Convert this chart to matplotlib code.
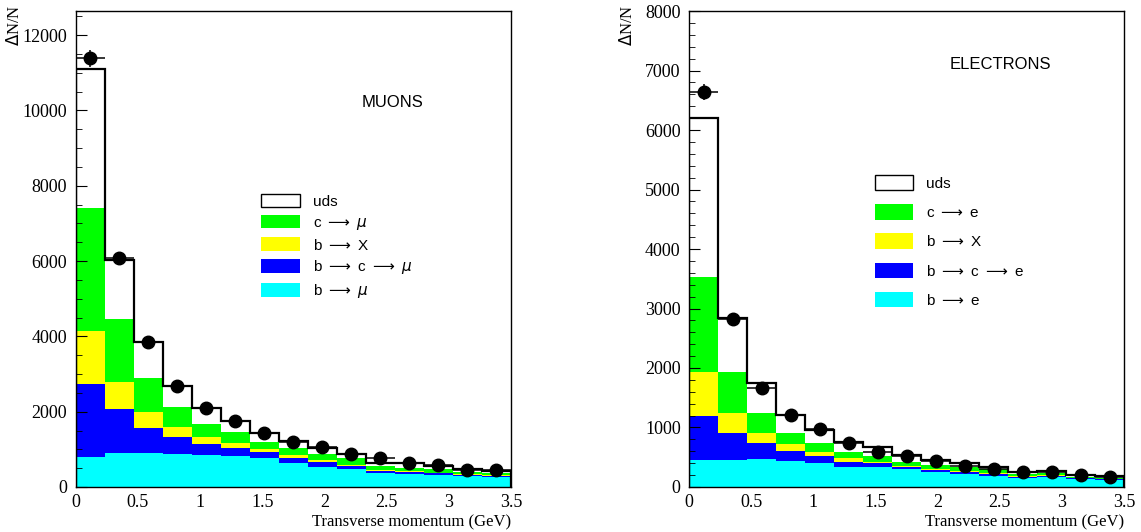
import numpy as np
import matplotlib.pyplot as plt
from matplotlib.patches import Patch
from matplotlib.ticker import MultipleLocator

# 15 bins of transverse momentum, 0 - 3.5 GeV
n_bins = 15
pt_max = 3.5

# --- muons (stack components, per bin) ---
mu_b_mu = [805, 895, 895, 885, 850, 823, 779, 646, 540, 478, 380, 345, 311, 284, 258]
mu_b_c_mu = [1931, 1185, 680, 443, 292, 222, 142, 115, 124, 80, 45, 53, 53, 43, 42]
mu_b_x = [1416, 709, 417, 266, 195, 124, 88, 89, 53, 26, 27, 19, 16, 18, 19]
mu_c_mu = [3258, 1665, 903, 531, 344, 292, 195, 195, 151, 177, 114, 96, 90, 61, 45]
mu_total = [11100, 6030, 3843, 2683, 2090, 1761, 1443, 1213, 1045, 876, 646, 629, 566, 478, 433]
mu_data = [11380, 6080, 3850, 2680, 2100, 1760, 1426, 1204, 1054, 868, 779, 646, 593, 460, 443]

# --- electrons ---
el_b_e = [448, 453, 464, 442, 408, 341, 330, 297, 246, 218, 185, 156, 162, 129, 117]
el_b_c_e = [749, 448, 269, 167, 112, 84, 67, 33, 34, 34, 33, 17, 23, 17, 12]
el_b_x = [738, 335, 168, 113, 73, 67, 28, 22, 22, 22, 12, 12, 16, 10, 11]
el_c_e = [1589, 699, 346, 189, 140, 101, 95, 73, 67, 67, 67, 33, 39, 17, 16]
el_total = [6204, 2848, 1740, 1213, 956, 760, 677, 537, 453, 397, 330, 257, 274, 201, 185]
el_data = [6633, 2819, 1666, 1208, 968, 744, 593, 520, 442, 352, 297, 257, 257, 201, 173]

plt.rcParams['font.family'] = ['Liberation Serif', 'DejaVu Serif']
sans = ['Liberation Sans', 'DejaVu Sans']

edges = np.linspace(0, pt_max, n_bins + 1)
centers = 0.5 * (edges[:-1] + edges[1:])
half_w = 0.5 * (edges[1] - edges[0])

colors = ['#00ffff', '#0000ff', '#ffff00', '#00ff00']


def draw_panel(ax, comps, total, data, labels, ymax, major, minor, title, title_xy,
               leg_anchor, leg_hh, leg_ls):
    bottom = np.zeros(n_bins)
    for comp, col in zip(comps, colors):
        top = bottom + np.array(comp)
        ax.stairs(top, edges, baseline=bottom, fill=True, color=col, lw=0)
        bottom = top
    ax.stairs(total, edges, color='black', lw=1.6, zorder=3)
    ax.errorbar(centers, data, xerr=half_w, yerr=np.array(data) * 0.02, fmt='o',
                color='black', ms=9, lw=1.1, capsize=0, zorder=4)
    ax.set_xlim(0, pt_max)
    ax.set_ylim(0, ymax)
    ax.xaxis.set_major_locator(MultipleLocator(0.5))
    ax.yaxis.set_major_locator(MultipleLocator(major))
    ax.yaxis.set_minor_locator(MultipleLocator(minor))
    ax.tick_params(axis='y', which='both', direction='in', right=False)
    ax.tick_params(axis='y', which='major', length=8, labelsize=13, pad=6)
    ax.tick_params(axis='y', which='minor', length=4)
    ax.tick_params(axis='x', length=0, labelsize=13, pad=5)
    ax.xaxis.set_major_formatter(plt.FuncFormatter(lambda v, p: f'{v:g}'))
    for s in ax.spines.values():
        s.set_linewidth(1.0)
    ax.text(title_xy[0], title_xy[1], title, transform=ax.transAxes,
            family=sans, fontsize=12, va='center')
    handles = [Patch(facecolor='white', edgecolor='black', lw=1.0),
               Patch(facecolor=colors[3]), Patch(facecolor=colors[2]),
               Patch(facecolor=colors[1]), Patch(facecolor=colors[0])]
    ax.legend(handles, labels, loc='upper left', bbox_to_anchor=leg_anchor,
              frameon=False, prop={'family': sans, 'size': 11},
              handlelength=2.5, handleheight=leg_hh, labelspacing=leg_ls,
              handletextpad=0.85)
    ax.text(-0.16, 1.013, r'$\Delta$N/N', rotation=90, transform=ax.transAxes,
            ha='left', va='top', fontsize=12)
    ax.text(1.0, -0.057, 'Transverse momentum (GeV)', transform=ax.transAxes,
            ha='right', va='top', fontsize=12)


fig = plt.figure(figsize=(11.41, 5.32), dpi=100)
ax1 = fig.add_axes([0.0663, 0.0846, 0.3815, 0.8947])
ax2 = fig.add_axes([0.6039, 0.0846, 0.3812, 0.8947])

arr = r'$\longrightarrow$'
draw_panel(ax1, [mu_b_mu, mu_b_c_mu, mu_b_x, mu_c_mu], mu_total, mu_data,
           ['uds', f'c {arr} $\\mu$', f'b {arr} X',
            f'b {arr} c {arr} $\\mu$', f'b {arr} $\\mu$'],
           12640, 2000, 500, 'MUONS', (0.658, 0.807), (0.395, 0.645), 1.0, 0.38)
draw_panel(ax2, [el_b_e, el_b_c_e, el_b_x, el_c_e], el_total, el_data,
           ['uds', f'c {arr} e', f'b {arr} X',
            f'b {arr} c {arr} e', f'b {arr} e'],
           8000, 1000, 200, 'ELECTRONS', (0.6, 0.887), (0.396, 0.685), 1.2, 0.87)

fig.savefig('out.png', dpi=100)
